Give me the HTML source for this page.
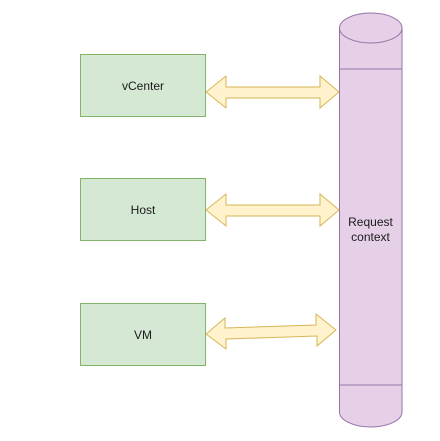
<!DOCTYPE html>
<html><head><style>body{margin:0;background:#fff}</style></head><body>
<svg width="440" height="436" xmlns="http://www.w3.org/2000/svg" font-family="Liberation Sans, sans-serif" font-size="12">
<g fill="#d5e8d4" stroke="#82b366">
<rect x="80.5" y="54.5" width="125" height="62"/>
<rect x="80.5" y="178.5" width="125" height="62"/>
<rect x="80.5" y="303.5" width="125" height="62"/>
</g>
<g fill="#1a1a1a" text-anchor="middle">
<text x="143" y="90">vCenter</text>
<text x="143" y="214">Host</text>
<text x="143" y="339">VM</text>
</g>
<g fill="#fff2cc" stroke="#d6b656">
<polygon points="206,92 226,76 226,87 320,87 320,76 339,92 320,108 320,98 226,98 226,108"/>
<polygon points="206,210 226,194 226,205 320,205 320,194 339,210 320,226 320,216 226,216 226,226"/>
<polygon points="206,334 225,318 225,328 316,325 316,314 336,330 317,346 317,336 226,339 226,349"/>
</g>
<g fill="#e6d0e8" stroke="#9673a6">
<path d="M339.5,28 L339.5,412 A31.25,15 0 0 0 402,412 L402,28 A31.25,15 0 0 0 339.5,28 Z"/>
<path d="M339.5,28 A31.25,15 0 0 0 402,28" fill="none"/>
<line x1="339.5" y1="69" x2="402" y2="69"/>
<line x1="339.5" y1="385" x2="402" y2="385"/>
</g>
<g fill="#1a1a1a" text-anchor="middle">
<text x="370.5" y="226">Request</text>
<text x="370.5" y="241">context</text>
</g>
</svg>
</body></html>
